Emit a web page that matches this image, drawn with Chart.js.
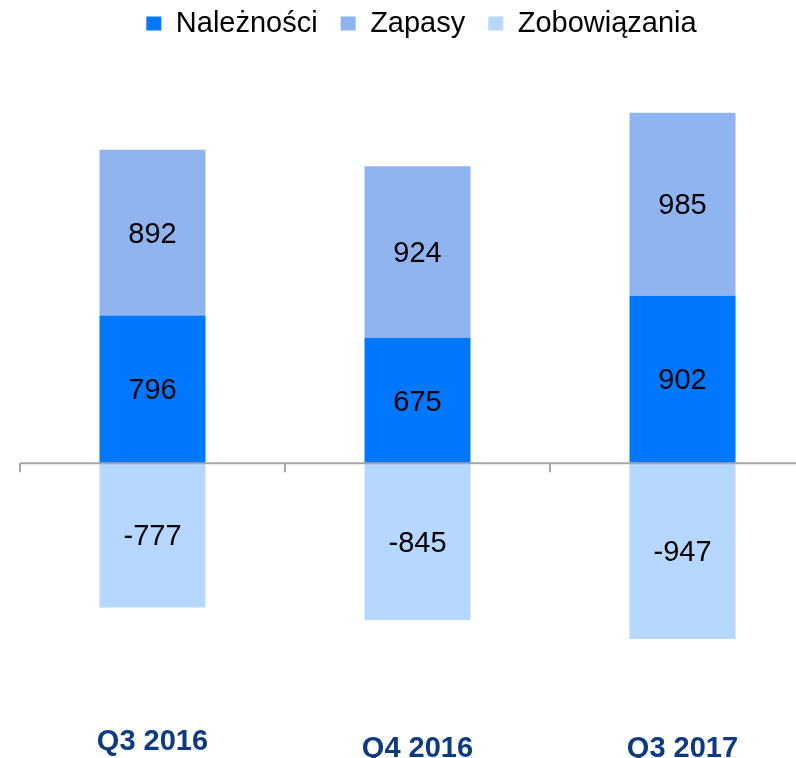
<!DOCTYPE html>
<html>
<head>
<meta charset="utf-8">
<script src="https://cdn.jsdelivr.net/npm/chart.js@4"></script>
<style>
  html, body { margin: 0; padding: 0; background: #ffffff; overflow: hidden; width: 796px; height: 758px; }
  #wrap { position: absolute; left: 0; top: -14px; }
</style>
</head>
<body>
<div id="wrap"><canvas id="c" width="823" height="825"></canvas></div>
<script>
const categories = ['Q3 2016', 'Q4 2016', 'Q3 2017'];
const seriesNames = ['Należności', 'Zapasy', 'Zobowiązania'];
const naleznosci = [796, 675, 902];
const zapasy = [892, 924, 985];
const zobowiazania = [-777, -845, -947];
const seriesColors = ['#0077FF', '#8FB4F0', '#B6D7FF'];

Chart.defaults.font.family = "'Liberation Sans', Arial, Helvetica, sans-serif";

const zeroLine = {
  id: 'zeroLine',
  afterDatasetsDraw(chart) {
    const {ctx, chartArea, scales} = chart;
    const x = scales.x, y = scales.y;
    const y0 = y.getPixelForValue(0);
    ctx.save();
    ctx.strokeStyle = '#A6A6A6';
    ctx.lineWidth = 2;
    ctx.beginPath();
    ctx.moveTo(chartArea.left, y0);
    ctx.lineTo(chartArea.right, y0);
    const n = categories.length;
    for (let i = 0; i <= n; i++) {
      let px;
      if (i === 0) px = chartArea.left;
      else if (i === n) px = chartArea.right;
      else px = (x.getPixelForValue(i - 1) + x.getPixelForValue(i)) / 2;
      ctx.moveTo(px, y0);
      ctx.lineTo(px, y0 + 9);
    }
    ctx.stroke();
    ctx.restore();
  }
};

const valueLabels = {
  id: 'valueLabels',
  afterDatasetsDraw(chart) {
    const {ctx} = chart;
    ctx.save();
    ctx.fillStyle = '#000000';
    ctx.font = "29px 'Liberation Sans', Arial, sans-serif";
    ctx.textAlign = 'center';
    ctx.textBaseline = 'middle';
    chart.data.datasets.forEach((ds, di) => {
      const meta = chart.getDatasetMeta(di);
      meta.data.forEach((bar, i) => {
        const cy = (bar.y + bar.base) / 2 + 2;
        ctx.fillText(String(ds.data[i]), bar.x, cy);
      });
    });
    ctx.restore();
  }
};

new Chart(document.getElementById('c'), {
  type: 'bar',
  data: {
    labels: categories,
    datasets: [
      { label: seriesNames[0], data: naleznosci, backgroundColor: seriesColors[0] },
      { label: seriesNames[1], data: zapasy, backgroundColor: seriesColors[1] },
      { label: seriesNames[2], data: zobowiazania, backgroundColor: seriesColors[2] }
    ]
  },
  options: {
    responsive: false,
    animation: false,
    layout: { padding: { left: 20, right: 0, top: 0, bottom: 0 } },
    datasets: { bar: { categoryPercentage: 1.0, barPercentage: 0.4 } },
    plugins: {
      legend: {
        position: 'top',
        labels: {
          boxWidth: 15,
          boxHeight: 14,
          padding: 23,
          color: '#000000',
          font: { size: 29 }
        }
      },
      tooltip: { enabled: false }
    },
    scales: {
      x: {
        stacked: true,
        grid: { display: false, drawTicks: false },
        border: { display: false },
        ticks: {
          padding: 39,
          color: '#0E3A82',
          font: (ctx) => ({ size: 29, weight: 'bold', lineHeight: ctx.index === 0 ? '34px' : '47px' })
        }
      },
      y: {
        stacked: true,
        position: 'right',
        min: -1200,
        max: 2236,
        grid: { display: false, drawTicks: false },
        border: { display: false },
        ticks: { display: false },
        afterFit(scale) { scale.width = 8; }
      }
    }
  },
  plugins: [zeroLine, valueLabels]
});
</script>
</body>
</html>
